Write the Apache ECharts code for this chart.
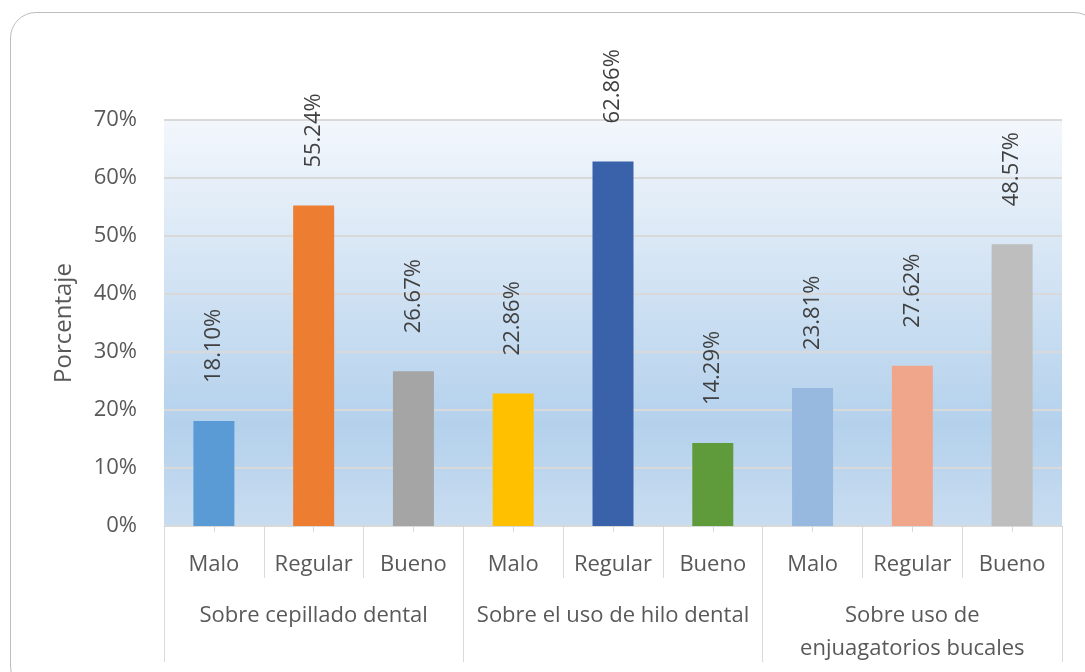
<!DOCTYPE html>
<html>
<head>
<meta charset="utf-8">
<script src="https://cdn.jsdelivr.net/npm/echarts@6/dist/echarts.min.js"></script>
<style>
  html, body { margin: 0; padding: 0; background: #fff; overflow: hidden; }
  .frame {
    position: absolute;
    left: 10px;
    top: 12px;
    width: 1090px;
    height: 680px;
    border: 1px solid #bdbdbd;
    border-radius: 26px;
    box-sizing: border-box;
  }
  #chart { position: absolute; left: 0; top: 0; width: 1085px; height: 672px; }
</style>
</head>
<body>
<div class="frame"></div>
<div id="chart"></div>
<script>
// datos del gráfico
const niveles = ['Malo', 'Regular', 'Bueno', 'Malo', 'Regular', 'Bueno', 'Malo', 'Regular', 'Bueno']
const grupos = ['Sobre cepillado dental', 'Sobre el uso de hilo dental', 'Sobre uso de\nenjuagatorios bucales']
const porcentajes = [18.10, 55.24, 26.67, 22.86, 62.86, 14.29, 23.81, 27.62, 48.57]
const colores = ['#5b9bd5', '#ed7d31', '#a5a5a5', '#ffc000', '#3a62ab', '#5f9a3b', '#97b9e0', '#efa68a', '#bebebe']
const ticksY = [0, 10, 20, 30, 40, 50, 60, 70]

const fuente = '"Open Sans", "Noto Sans", sans-serif'
const gris = '#595959'
const linea = '#d9d9d9'

const chart = echarts.init(document.getElementById('chart'))

const option = {
  animation: false,
  textStyle: { fontFamily: fuente },
  grid: {
    left: 164,
    right: 23,
    top: 120,
    bottom: 146,
    show: true,
    borderWidth: 0,
    backgroundColor: {
      type: 'linear', x: 0, y: 0, x2: 0, y2: 1,
      colorStops: [
        { offset: 0, color: '#f3f7fc' },
        { offset: 0.75, color: '#b4d1ec' },
        { offset: 1, color: '#c8dcf0' }
      ]
    }
  },
  xAxis: [
    {
      // nivel interior: etiquetas y separadores
      type: 'category',
      data: niveles,
      position: 'bottom',
      axisLine: { show: true, lineStyle: { color: linea, width: 1 } },
      axisTick: { show: true, length: 52, lineStyle: { color: linea, width: 1 } },
      axisLabel: { color: gris, fontSize: 22, fontFamily: fuente, margin: 28, interval: 0 }
    },
    {
      // marcas cortas al centro de cada barra
      type: 'category',
      data: niveles,
      position: 'bottom',
      axisLine: { show: false },
      axisTick: { show: true, alignWithLabel: true, length: 6, lineStyle: { color: linea } },
      axisLabel: { show: false }
    },
    {
      // nivel de grupo
      type: 'category',
      data: grupos,
      position: 'bottom',
      axisLine: { show: false },
      axisTick: { show: true, length: 136, lineStyle: { color: linea, width: 1 } },
      axisLabel: { color: gris, fontSize: 22, fontFamily: fuente, margin: 73, lineHeight: 33, interval: 0 }
    }
  ],
  yAxis: {
    type: 'value',
    min: ticksY[0],
    max: ticksY[ticksY.length - 1],
    interval: 10,
    name: 'Porcentaje',
    nameLocation: 'middle',
    nameGap: 88,
    nameTextStyle: { color: gris, fontSize: 24, fontFamily: fuente },
    axisLine: { show: false },
    axisTick: { show: false },
    axisLabel: { color: gris, fontSize: 22, fontFamily: fuente, margin: 27, formatter: '{value}%' },
    splitLine: { lineStyle: { color: linea, width: 2 } }
  },
  series: [
    {
      type: 'bar',
      xAxisIndex: 0,
      barWidth: 41,
      data: porcentajes.map((v, i) => ({ value: v, itemStyle: { color: colores[i] } })),
      label: {
        show: true,
        position: 'top',
        rotate: 90,
        align: 'left',
        verticalAlign: 'middle',
        distance: 38,
        color: '#404040',
        fontSize: 22,
        fontFamily: fuente,
        formatter: p => p.value.toFixed(2) + '%'
      }
    }
  ]
}

chart.setOption(option)
</script>
</body>
</html>
